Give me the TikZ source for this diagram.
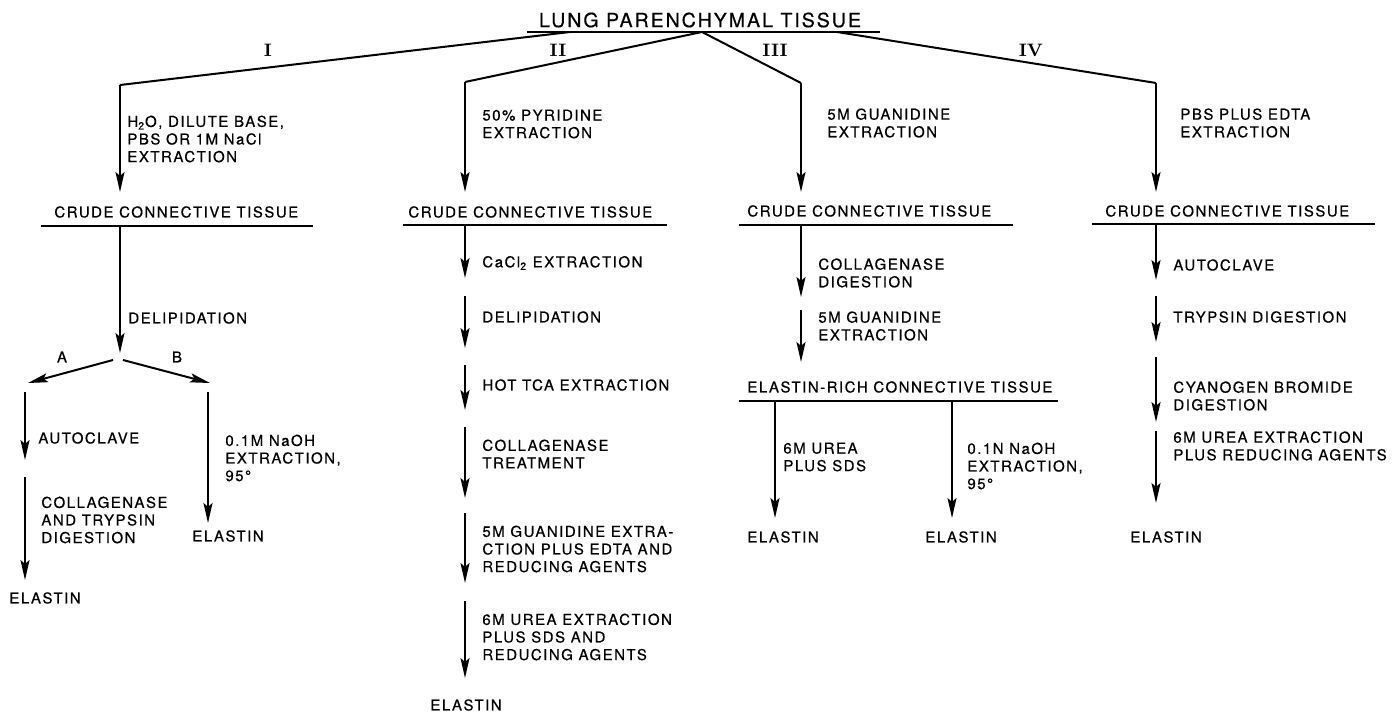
\documentclass[tikz,border=0pt]{standalone}
\usepackage{fontspec}
\usepackage{tikz}
\usetikzlibrary{arrows.meta}
\newfontfamily\lettering{TeX Gyre Heros}[LetterSpace=10,FakeBold=0.5]

\begin{document}
\begin{tikzpicture}[x=0.5pt,y=-0.5pt,
  lbl/.style={font=\lettering\fontsize{7.5}{8.8}\selectfont, inner sep=0pt, anchor=west, align=left},
  big/.style={font=\lettering\fontsize{9.8}{11}\selectfont, inner sep=0pt},
  roman/.style={font=\rmfamily\bfseries\fontsize{9}{9}\selectfont, inner sep=0pt},
  rule/.style={line width=1pt},
  flow/.style={line width=1pt, -{Stealth[length=10pt,width=4.5pt,inset=2pt]}}]
\useasboundingbox (0,0) rectangle (1395,721);

% source tissue
\node[big] (root) at (700,20) {LUNG PARENCHYMAL TISSUE};
\draw[rule] (527,32) coordinate (rootL) -- (880,32) coordinate (rootR);
\coordinate (rI) at (570,32);
\coordinate (rII) at (702,32);
\coordinate (rIV) at (837,32);
\coordinate (kI) at (120,85);
\coordinate (kII) at (465,82);
\coordinate (kIII) at (801,83);
\coordinate (kIV) at (1156,83);
\coordinate (tI) at (120,192);
\coordinate (tII) at (465,192);
\coordinate (tIII) at (801,192);
\coordinate (tIV) at (1156,192);

\node[roman] (nI) at (268,50) {I};
\node[roman] (nII) at (558,50) {II};
\node[roman] (nIII) at (775,50) {III};
\node[roman] (nIV) at (1031,50) {IV};

\draw[rule] (rI) -- (kI);
\draw[flow] (kI) -- (tI);
\draw[rule] (rII) -- (kII);
\draw[flow] (kII) -- (tII);
\draw[rule] (rII) -- (kIII);
\draw[flow] (kIII) -- (tIII);
\draw[rule] (rIV) -- (kIV);
\draw[flow] (kIV) -- (tIV);

\node[lbl] (xI) at (127,139) {H\textsubscript{2}O, DILUTE BASE,\\PBS OR 1M NaCl\\EXTRACTION};
\node[lbl] (xII) at (482,124) {50\% PYRIDINE\\EXTRACTION};
\node[lbl] (xIII) at (827,123) {5M GUANIDINE\\EXTRACTION};
\node[lbl] (xIV) at (1180,123) {PBS PLUS EDTA\\EXTRACTION};

% column I
\node[lbl] (cI) at (54,212) {CRUDE CONNECTIVE TISSUE};
\draw[rule] (41,226) coordinate (uIa) -- (313,226) coordinate (uIb);
\coordinate (uI) at (120,226);
\coordinate (dI) at (120,353);
\draw[flow] (uI) -- (dI);
\node[lbl] (delI) at (128,318) {DELIPIDATION};
\coordinate (aS) at (113,360);
\coordinate (aE) at (28,383);
\coordinate (bS) at (123,360);
\coordinate (bE) at (210,383);
\draw[flow] (aS) -- (aE);
\draw[flow] (bS) -- (bE);
\node[lbl,anchor=center] (labA) at (62,357) {A};
\node[lbl,anchor=center] (labB) at (177,357) {B};

\coordinate (a1) at (25,392);
\coordinate (a2) at (25,460);
\coordinate (a3) at (25,477);
\coordinate (a4) at (25,580);
\draw[flow] (a1) -- (a2);
\draw[flow] (a3) -- (a4);
\node[lbl] (autoA) at (38,438) {AUTOCLAVE};
\node[lbl] (collA) at (41,520) {COLLAGENASE\\AND TRYPSIN\\DIGESTION};
\node[lbl] (elA) at (9,598) {ELASTIN};

\coordinate (b1) at (208,392);
\coordinate (b2) at (208,523);
\draw[flow] (b1) -- (b2);
\node[lbl] (naohB) at (225,458) {0.1M NaOH\\EXTRACTION,\\95°};
\node[lbl] (elB) at (192,536) {ELASTIN};

% column II
\node[lbl] (cII) at (408,212) {CRUDE CONNECTIVE TISSUE};
\draw[rule] (403,225) coordinate (uIIa) -- (667,225) coordinate (uIIb);
\coordinate (p0) at (465,225);
\coordinate (p1) at (465,278);
\coordinate (q1) at (465,296);
\coordinate (p2) at (465,348);
\coordinate (q2) at (465,365);
\coordinate (p3) at (465,410);
\coordinate (q3) at (465,427);
\coordinate (p4) at (465,498);
\coordinate (q4) at (465,513);
\coordinate (p5) at (465,583);
\coordinate (q5) at (465,601);
\coordinate (p6) at (465,678);
\draw[flow] (p0) -- (p1);
\draw[flow] (q1) -- (p2);
\draw[flow] (q2) -- (p3);
\draw[flow] (q3) -- (p4);
\draw[flow] (q4) -- (p5);
\draw[flow] (q5) -- (p6);
\node[lbl] (sII1) at (482,263) {CaCl\textsubscript{2} EXTRACTION};
\node[lbl] (sII2) at (482,317) {DELIPIDATION};
\node[lbl] (sII3) at (482,385) {HOT TCA EXTRACTION};
\node[lbl] (sII4) at (482,454) {COLLAGENASE\\TREATMENT};
\node[lbl] (sII5) at (482,549) {5M GUANIDINE EXTRA-\\CTION PLUS EDTA AND\\REDUCING AGENTS};
\node[lbl] (sII6) at (482,637) {6M UREA EXTRACTION\\PLUS SDS AND\\REDUCING AGENTS};
\node[lbl] (elII) at (430,705) {ELASTIN};

% column III
\node[lbl] (cIII) at (747,211) {CRUDE CONNECTIVE TISSUE};
\draw[rule] (739,225) coordinate (uIIIa) -- (1013,225) coordinate (uIIIb);
\coordinate (g0) at (801,225);
\coordinate (g1) at (801,297);
\coordinate (h1) at (801,310);
\coordinate (g2) at (801,362);
\draw[flow] (g0) -- (g1);
\draw[flow] (h1) -- (g2);
\node[lbl] (sIII1) at (818,273) {COLLAGENASE\\DIGESTION};
\node[lbl] (sIII2) at (818,326) {5M GUANIDINE\\EXTRACTION};
\node[lbl] (rich) at (747,387) {ELASTIN-RICH CONNECTIVE TISSUE};
\draw[rule] (739,401) coordinate (uRa) -- (1058,401) coordinate (uRb);
\coordinate (m1) at (775,401);
\coordinate (m2) at (775,518);
\coordinate (n1) at (952,401);
\coordinate (n2) at (952,518);
\draw[flow] (m1) -- (m2);
\draw[flow] (n1) -- (n2);
\node[lbl] (ureaIII) at (783,457) {6M UREA\\PLUS SDS};
\node[lbl] (naohIII) at (967,466) {0.1N NaOH\\EXTRACTION,\\95°};
\node[lbl] (elIIIa) at (747,537) {ELASTIN};
\node[lbl] (elIIIb) at (925,537) {ELASTIN};

% column IV
\node[lbl] (cIV) at (1105,211) {CRUDE CONNECTIVE TISSUE};
\draw[rule] (1092,224) coordinate (uIVa) -- (1375,224) coordinate (uIVb);
\coordinate (v0) at (1156,224);
\coordinate (v1) at (1156,280);
\coordinate (w1) at (1156,296);
\coordinate (v2) at (1156,342);
\coordinate (w2) at (1156,357);
\coordinate (v3) at (1156,422);
\coordinate (w3) at (1156,431);
\coordinate (v4) at (1156,503);
\draw[flow] (v0) -- (v1);
\draw[flow] (w1) -- (v2);
\draw[flow] (w2) -- (v3);
\draw[flow] (w3) -- (v4);
\node[lbl] (sIV1) at (1173,265) {AUTOCLAVE};
\node[lbl] (sIV2) at (1173,317) {TRYPSIN DIGESTION};
\node[lbl] (sIV3) at (1173,396) {CYANOGEN BROMIDE\\DIGESTION};
\node[lbl] (sIV4) at (1173,446) {6M UREA EXTRACTION\\PLUS REDUCING AGENTS};
\node[lbl] (elIV) at (1130,537) {ELASTIN};

\end{tikzpicture}
\end{document}
